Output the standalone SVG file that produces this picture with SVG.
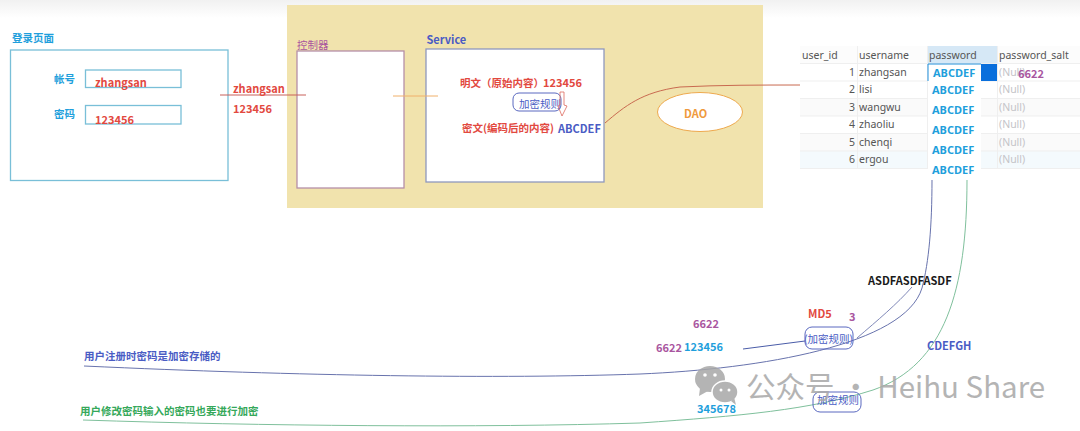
<svg xmlns="http://www.w3.org/2000/svg" width="1080" height="431" viewBox="0 0 1080 431">
<defs>
<linearGradient id="top" x1="0" y1="0" x2="0" y2="1"><stop offset="0" stop-color="#f1f1f1"/><stop offset="1" stop-color="#ffffff"/></linearGradient>
</defs>
<style>
text{font-family:"Noto Sans CJK SC","Noto Sans",sans-serif;font-size:11px}
.b{font-weight:700}
.m{font-weight:700;font-size:10.5px}
.red{fill:#e2493f}.blue{fill:#1f9fdc}.purple{fill:#a9569f}.indigo{fill:#4a5cc4}
.box{fill:#fff;stroke-width:1.3}
.tbl{font-family:"Noto Sans","DejaVu Sans",sans-serif;font-size:10.5px;fill:#555}
.null{font-family:"Noto Sans",sans-serif;font-size:10.5px;fill:#c4c4c8}
.pw{font-family:"Noto Sans",sans-serif;font-weight:700;font-size:11px;fill:#1f9fdc}
.line{fill:none;stroke-width:1}
.rule{fill:none;stroke:#5a69c0;stroke-width:1}
</style>
<rect x="0" y="0" width="1080" height="18" fill="url(#top)"/>
<rect x="287" y="5" width="476" height="203" fill="#f1e3ad"/>

<g id="login-page">
<rect class="box" x="10.500" y="50" width="217.500" height="130.500" stroke="#79bfd8"/>
<text class="m blue" x="12" y="42">登录页面</text>
<text class="m blue" x="54" y="83">帐号</text>
<rect class="box" x="85.500" y="70" width="95.500" height="17.500" stroke="#79bfd8"/>
<text class="b red" x="95" y="87">zhangsan</text>
<text class="m blue" x="54" y="118">密码</text>
<rect class="box" x="85.500" y="105.500" width="95.500" height="18.500" stroke="#79bfd8"/>
<text class="b red" x="95" y="124">123456</text>
</g>

<g id="controller">
<rect class="box" x="297" y="51" width="107" height="137" stroke="#b58fa8"/>
<text class="purple" x="297" y="49" style="font-size:10.500px">控制器</text>
</g>

<g id="service">
<rect class="box" x="426" y="49" width="178" height="133" stroke="#8f98bd"/>
<text class="b indigo" x="426.500" y="44">Service</text>
<text class="m red" x="460" y="87">明文（原始内容）</text>
<text class="b red" x="543" y="87">123456</text>
<text class="m red" x="462" y="132">密文(编码后的内容)</text>
<text class="b indigo" x="558" y="133">ABCDEF</text>
</g>

<g id="rule-service">
<rect class="rule" x="513" y="93" width="48" height="18" rx="6"/>
<text class="indigo" x="519" y="108" style="font-size:10.500px">加密规则</text>
<path d="M560 92H564V105L567 106L562 116L558 106L560 105Z" fill="none" stroke="#dd6a5e" stroke-width="0.800"/>
</g>

<g id="dao">
<ellipse cx="700" cy="112" rx="42.500" ry="19.500" fill="#fff" stroke="#eea94e" stroke-width="1"/>
<text class="b" x="684" y="118" fill="#ef9a3d">DAO</text>
</g>

<g id="user-table">
<rect x="800" y="46" width="280" height="17" fill="#fcfcfc"/>
<rect x="927" y="46" width="70" height="17" fill="#d6e8f6"/>
<rect x="800" y="98.500" width="280" height="17.500" fill="#fafafa"/>
<rect x="800" y="133.500" width="280" height="17.500" fill="#fafafa"/>
<rect x="800" y="151" width="280" height="17.500" fill="#f4fafd"/>
<g stroke="#efefef" stroke-width="1">
<path d="M800 63.500H1080M800 81H1080M800 98.500H1080M800 116H1080M800 133.500H1080M800 151H1080M800 168.500H1080"/>
<path d="M857.500 46V168.500M927.500 46V168.500M997.500 46V168.500"/>
</g>
<text class="tbl" x="802" y="59">user_id</text><text class="tbl" x="859" y="59">username</text><text class="tbl" x="929" y="59">password</text><text class="tbl" x="999" y="59">password_salt</text>
<text class="tbl" x="849" y="76">1</text><text class="tbl" x="859" y="76">zhangsan</text>
<text class="tbl" x="849" y="93">2</text><text class="tbl" x="859" y="93">lisi</text>
<text class="tbl" x="849" y="111">3</text><text class="tbl" x="859" y="111">wangwu</text>
<text class="tbl" x="849" y="128">4</text><text class="tbl" x="859" y="128">zhaoliu</text>
<text class="tbl" x="849" y="146">5</text><text class="tbl" x="859" y="146">chenqi</text>
<text class="tbl" x="849" y="163">6</text><text class="tbl" x="859" y="163">ergou</text>
<text class="null" x="999" y="76">(Null)</text><text class="null" x="999" y="93">(Null)</text><text class="null" x="999" y="111">(Null)</text><text class="null" x="999" y="128">(Null)</text><text class="null" x="999" y="146">(Null)</text><text class="null" x="999" y="163">(Null)</text>
<rect x="928" y="64" width="53" height="115" fill="#fff"/>
<rect x="981" y="64" width="16" height="17" fill="#0a6fdc"/>
<path d="M928 64V81M928 64H981" stroke="#1f8fdc" stroke-width="1" fill="none"/>
<text class="pw" x="933" y="77">ABCDEF</text>
<text class="pw" x="932" y="94">ABCDEF</text>
<text class="pw" x="932" y="114">ABCDEF</text>
<text class="pw" x="932" y="134">ABCDEF</text>
<text class="pw" x="932" y="154">ABCDEF</text>
<text class="pw" x="932" y="174">ABCDEF</text>
<text class="b purple" x="1018" y="78">6622</text>
</g>

<g id="connectors">
<path class="line" d="M220 95H306" stroke="#c8605a"/>
<path class="line" d="M393 96H438" stroke="#f0b06a"/>
<path class="line" d="M605 123C625 106 642 92 680 87C720 85 760 85 800 85" stroke="#c96a50"/>
<path class="line" d="M743 349L805 341" stroke="#4a5ca8"/>
<path class="line" d="M857 338C878 320 897 304 912 287" stroke="#7f88b8"/>
<path class="line" d="M84 366C300 376 500 379 640 374C760 369 905 345 922 288C929 262 932 225 932 180" stroke="#6873ad"/>
<path class="line" d="M83 420C260 426 480 428 640 423C740 416 810 410 873 390C945 365 967 290 967 180" stroke="#7fc09c"/>
</g>

<g id="labels">
<text class="b red" x="233" y="93">zhangsan</text>
<text class="b red" x="233" y="113">123456</text>
<text class="b" x="868" y="285" fill="#1a1a1a">ASDFASDFASDF</text>
<text class="b red" x="808" y="318">MD5</text>
<text class="b purple" x="849" y="321">3</text>
<text class="b purple" x="693" y="328">6622</text>
<text class="b purple" x="656" y="352">6622</text>
<text class="b blue" x="684" y="351">123456</text>
<text class="b blue" x="697" y="413">345678</text>
<text class="b indigo" x="927" y="350">CDEFGH</text>
<text class="m indigo" x="84" y="360">用户注册时密码是加密存储的</text>
<text class="m" x="80" y="415" fill="#35a85a">用户修改密码输入的密码也要进行加密</text>
</g>

<g id="rule-register">
<rect class="rule" x="805" y="327" width="48" height="22" rx="7"/>
<text class="indigo" x="804" y="343" style="font-size:10.500px">(加密规则)</text>
</g>
<g id="rule-change">
<rect class="rule" x="813" y="392" width="48" height="20" rx="7"/>
<text class="indigo" x="817" y="404" style="font-size:10.500px">加密规则</text>
</g>

<g id="watermark" fill="#a8a8a8" opacity="0.85">
<ellipse cx="710" cy="379" rx="15" ry="13"/>
<path d="M700 388L699 396L708 391Z"/>
<ellipse cx="725" cy="392" rx="13" ry="11" stroke="#fff" stroke-width="1.500"/>
<path d="M731 401L736 405L734 397Z"/>
<g fill="#fff"><circle cx="705" cy="375" r="1.800"/><circle cx="715" cy="375" r="1.800"/><circle cx="721" cy="390" r="1.500"/><circle cx="729" cy="390" r="1.500"/></g>
<text x="746" y="398" style="font-size:29.500px" fill="#a8a8a8">公众号 · Heihu Share</text>
</g>
</svg>
